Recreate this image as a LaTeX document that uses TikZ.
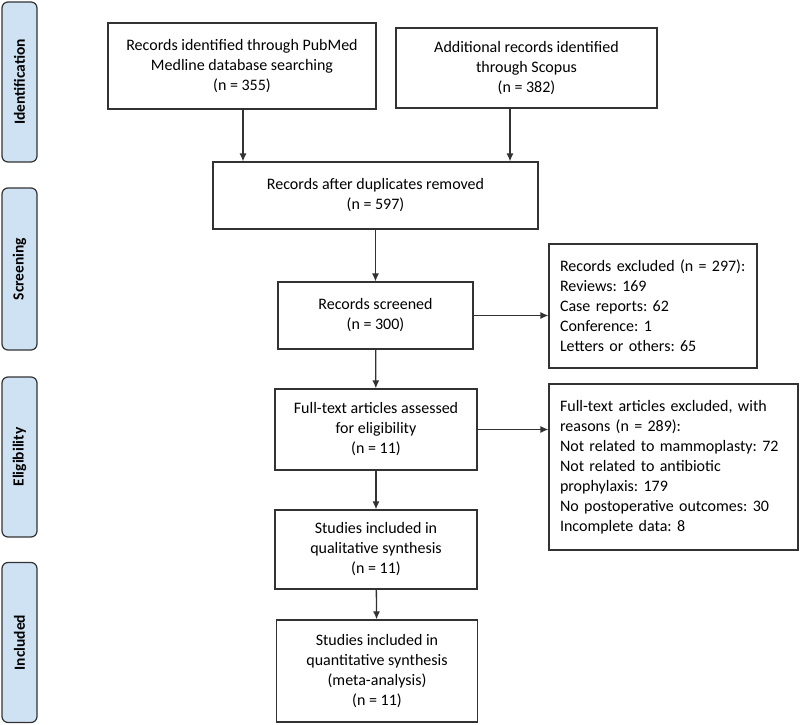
\documentclass[tikz,border=0pt]{standalone}
\usepackage{fontspec}
\setmainfont{Carlito}
\usetikzlibrary{arrows.meta}
\definecolor{phase}{RGB}{207,226,244}
\definecolor{edge}{RGB}{50,50,50}
\frenchspacing
\begin{document}
\begin{tikzpicture}[x=1pt,y=-1pt,
  phasebox/.style={draw=edge,line width=1.2pt,fill=phase,rounded corners=6pt,
    minimum width=35pt,inner sep=0pt,font=\fontsize{15.5}{18}\selectfont\bfseries},
  flowbox/.style={draw=edge,line width=1.2pt,fill=white,align=center,inner sep=0pt,
    font=\fontsize{16}{20}\selectfont},
  exbox/.style={draw=edge,line width=1.2pt,fill=white,align=left,inner xsep=11pt,inner ysep=0pt,
    font=\fontsize{16}{20}\selectfont},
  arr/.style={draw=edge,line width=1.3pt,-{Latex[length=8pt,width=7pt]}}]
\useasboundingbox (0,0) rectangle (800,725);
% phase labels
\node[phasebox,minimum height=160pt] (idf) at (19.5,82) {\rotatebox{90}{Identification}};
\node[phasebox,minimum height=162pt] (scr) at (19.5,269) {\rotatebox{90}{Screening}};
\node[phasebox,minimum height=160pt] (eli) at (19.5,457) {\rotatebox{90}{Eligibility}};
\node[phasebox,minimum height=160pt] (inc) at (19.5,642.5) {\rotatebox{90}{Included}};
% flow boxes
\node[flowbox,minimum width=268pt,minimum height=86pt] (pub) at (242,66)
  {Records identified through PubMed\\Medline database searching\\(n = 355)};
\node[flowbox,minimum width=261pt,minimum height=80pt] (sco) at (526.5,68)
  {Additional records identified\\through Scopus\\(n = 382)};
\node[flowbox,minimum width=325pt,minimum height=67pt] (dup) at (375.5,195.5)
  {Records after duplicates removed\\(n = 597)};
\node[flowbox,minimum width=195pt,minimum height=67pt] (scrd) at (375.5,315.5)
  {Records screened\\(n = 300)};
\node[exbox,minimum width=208pt,minimum height=124pt,text width=186pt] (exa) at (653,306)
  {\mbox{Records excluded (n = 297):}\\Reviews: 169\\Case reports: 62\\Conference: 1\\Letters or others: 65};
\node[flowbox,minimum width=202pt,minimum height=81pt] (ft) at (376,429.5)
  {Full-text articles assessed\\for eligibility\\(n = 11)};
\node[exbox,minimum width=249pt,minimum height=166pt,text width=227pt] (exb) at (673.5,467)
  {Full-text articles excluded, with\\reasons (n = 289):\\Not related to mammoplasty: 72\\Not related to antibiotic\\prophylaxis: 179\\No postoperative outcomes: 30\\Incomplete data: 8};
\node[flowbox,minimum width=202pt,minimum height=79pt] (qual) at (376,549.5)
  {Studies included in\\qualitative synthesis\\(n = 11)};
\node[flowbox,minimum width=201pt,minimum height=102pt] (quan) at (377,671)
  {Studies included in\\quantitative synthesis\\(meta-analysis)\\(n = 11)};
% connectors
\coordinate (pa) at (243,0);
\coordinate (sa) at (510,0);
\draw[arr] (pa |- pub.south) -- (pa |- dup.north);
\draw[arr] (sa |- sco.south) -- (sa |- dup.north);
\draw[arr] (dup) -- (scrd);
\draw[arr] (scrd.east) -- (scrd.east -| exa.west);
\draw[arr] (scrd) -- (ft);
\draw[arr] (ft.east) -- (ft.east -| exb.west);
\draw[arr] (ft) -- (qual);
\draw[arr] (qual) -- (quan);
\end{tikzpicture}
\end{document}
